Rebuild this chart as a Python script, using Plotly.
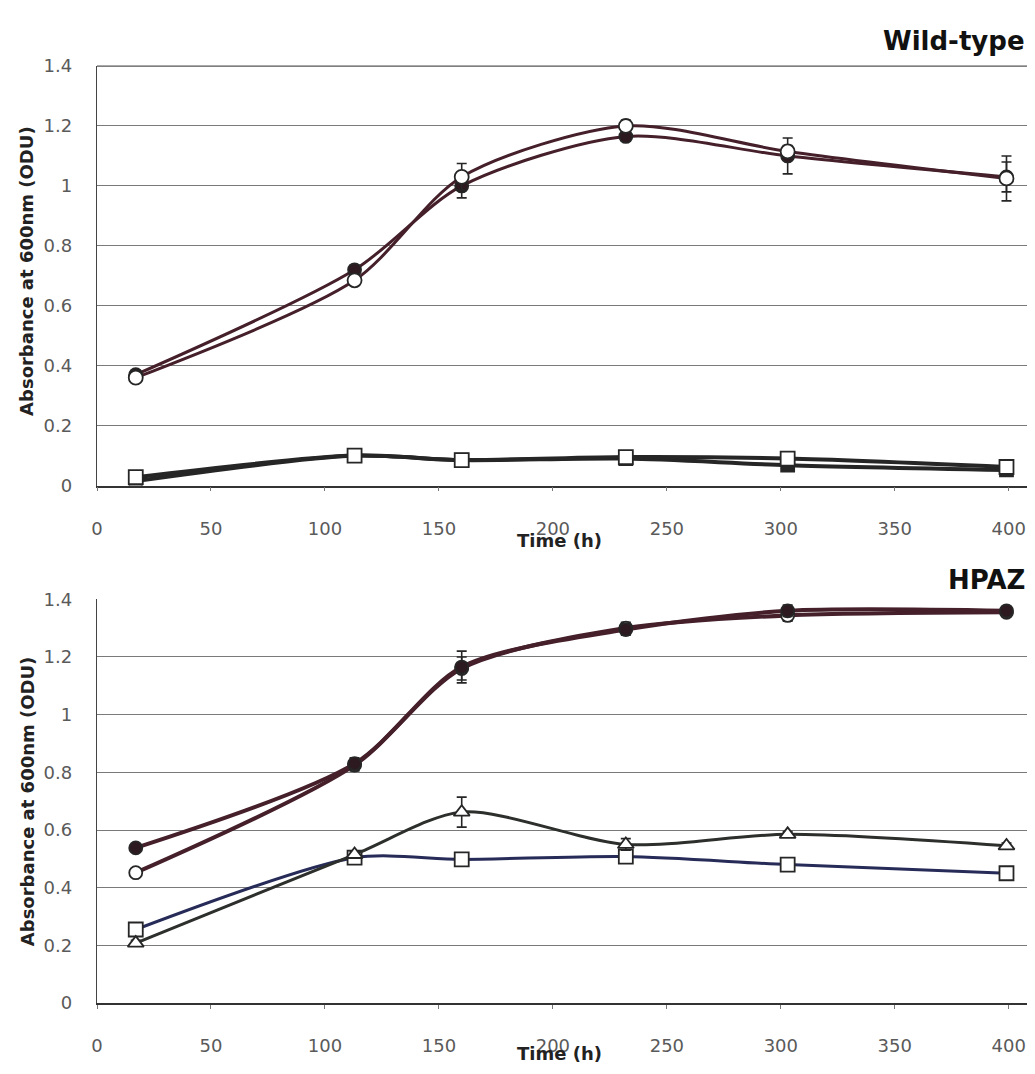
import plotly.graph_objects as go

# ---------------- data ----------------
time_h = [17, 113, 160, 232, 303, 399]

# Wild-type panel
wt_circle_filled = [0.37, 0.72, 1.00, 1.165, 1.10, 1.03]
wt_circle_filled_err = [0.015, 0.015, 0.04, 0.015, 0.06, 0.05]
wt_circle_open = [0.36, 0.685, 1.03, 1.20, 1.115, 1.025]
wt_circle_open_err = [0.015, 0.015, 0.045, 0.02, 0.02, 0.075]
wt_square_open = [0.028, 0.10, 0.085, 0.095, 0.09, 0.062]
wt_square_open_err = [0.02, 0.01, 0.01, 0.01, 0.01, 0.01]
wt_square_filled = [0.015, 0.10, 0.085, 0.09, 0.068, 0.052]
wt_square_filled_err = [0.01, 0.01, 0.01, 0.01, 0.01, 0.01]

# HPAZ panel
hp_circle_filled = [0.538, 0.83, 1.165, 1.295, 1.36, 1.36]
hp_circle_filled_err = [0.01, 0.02, 0.055, 0.02, 0.02, 0.01]
hp_circle_open = [0.452, 0.825, 1.16, 1.30, 1.344, 1.355]
hp_circle_open_err = [0.01, 0.02, 0.04, 0.02, 0.02, 0.01]
hp_triangle_open = [0.208, 0.515, 0.662, 0.55, 0.585, 0.545]
hp_triangle_open_err = [0.01, 0.01, 0.052, 0.02, 0.01, 0.01]
hp_square_open = [0.255, 0.504, 0.498, 0.508, 0.48, 0.45]
hp_square_open_err = [0.01, 0.01, 0.01, 0.01, 0.01, 0.01]

y_ticks = [0, 0.2, 0.4, 0.6, 0.8, 1.0, 1.2, 1.4]
x_ticks = [0, 50, 100, 150, 200, 250, 300, 350, 400]

# ---------------- styling ----------------
OFF = 8                      # default page body margin
W, H = 1035 - 2 * OFF, 1074 - 2 * OFF
ML = 97 - OFF
MAROON = "#45202b"
DARK = "#262626"
NAVY = "#272b58"


def err(arr, color):
    return dict(type="data", array=arr, visible=True, color=color,
                thickness=1.6, width=5)


def series(y, e, color, symbol, fill, lw, size, xa, ya):
    return go.Scatter(
        x=time_h, y=y, xaxis=xa, yaxis=ya, mode="lines+markers",
        line=dict(color=color, width=lw, shape="spline", smoothing=0.8),
        marker=dict(symbol=symbol, size=size, color=fill,
                    line=dict(color=DARK, width=1.8)),
        error_y=err(e, DARK), showlegend=False, hoverinfo="x+y")


fig = go.Figure()
# top panel
fig.add_trace(series(wt_square_filled, wt_square_filled_err, DARK, "square", DARK, 4, 13, "x", "y"))
fig.add_trace(series(wt_square_open, wt_square_open_err, DARK, "square", "white", 4, 14, "x", "y"))
fig.add_trace(series(wt_circle_filled, wt_circle_filled_err, MAROON, "circle", "#2c1a20", 3, 13, "x", "y"))
fig.add_trace(series(wt_circle_open, wt_circle_open_err, MAROON, "circle", "white", 3, 14, "x", "y"))
# bottom panel
fig.add_trace(series(hp_square_open, hp_square_open_err, NAVY, "square", "white", 3, 14, "x2", "y2"))
fig.add_trace(series(hp_triangle_open, hp_triangle_open_err, "#2c2f2c", "triangle-up", "white", 3, 14, "x2", "y2"))
fig.add_trace(series(hp_circle_open, hp_circle_open_err, MAROON, "circle", "white", 4, 13, "x2", "y2"))
fig.add_trace(series(hp_circle_filled, hp_circle_filled_err, MAROON, "circle", "#2c1a20", 4, 13, "x2", "y2"))


def py(p):
    return 1 - (p - OFF) / H


pw = W - ML


def px(p):
    return (p - OFF - ML) / pw


tickfont = dict(family="DejaVu Sans, Verdana, sans-serif", size=18, color="#5a5a5a")

xcommon = dict(range=[0, 408], tickvals=x_ticks, showgrid=False, zeroline=False,
               showline=True, linecolor="#333", linewidth=1.5,
               ticks="outside", ticklen=4, tickcolor="#777",
               tickfont=tickfont, ticklabelstandoff=22, fixedrange=True)
ycommon = dict(range=[0, 1.4], tickvals=y_ticks, showgrid=True, gridcolor="#7a7a7a",
               gridwidth=1, zeroline=False, showline=True, linecolor="#444",
               linewidth=1.3, ticks="", tickfont=tickfont, ticklabelstandoff=20,
               fixedrange=True)

fig.update_layout(
    width=W, height=H, margin=dict(l=ML, r=0, t=0, b=0),
    paper_bgcolor="white", plot_bgcolor="white",
    xaxis=dict(domain=[0, 1], anchor="y", **xcommon),
    yaxis=dict(domain=[py(484), py(56)], anchor="x", **ycommon),
    xaxis2=dict(domain=[0, 1], anchor="y2", **xcommon),
    yaxis2=dict(domain=[py(1012), py(600)], anchor="x2", **ycommon),
)

title_font = dict(family="DejaVu Sans, Verdana, sans-serif", size=26, color="#111")
axis_title_font = dict(family="DejaVu Sans, Verdana, sans-serif", size=18, color="#222")

annotations = [
    dict(text="<b>Wild-type</b>", x=px(1027), y=py(30), xanchor="right", yanchor="middle", font=title_font),
    dict(text="<b>HPAZ</b>", x=px(1027), y=py(580), xanchor="right", yanchor="middle", font=title_font),
    dict(text="<b>Time (h)</b>", x=px(559), y=py(540), xanchor="center", yanchor="middle", font=axis_title_font),
    dict(text="<b>Time (h)</b>", x=px(559), y=py(1063), xanchor="center", yanchor="middle", font=axis_title_font),
    dict(text="<b>Absorbance at 600nm (ODU)</b>", x=px(27), y=py(265), textangle=-90,
         xanchor="center", yanchor="middle", font=axis_title_font),
    dict(text="<b>Absorbance at 600nm (ODU)</b>", x=px(27), y=py(806), textangle=-90,
         xanchor="center", yanchor="middle", font=axis_title_font),
]
for a in annotations:
    a.update(xref="paper", yref="paper", showarrow=False)
fig.update_layout(annotations=annotations)

# top border line of the upper panel (frame at 1.4)
fig.update_layout(shapes=[dict(type="line", xref="paper", yref="paper", x0=0, x1=1,
                               y0=py(56), y1=py(56), line=dict(color="#555", width=1.3))])

fig.write_html("out.html")
